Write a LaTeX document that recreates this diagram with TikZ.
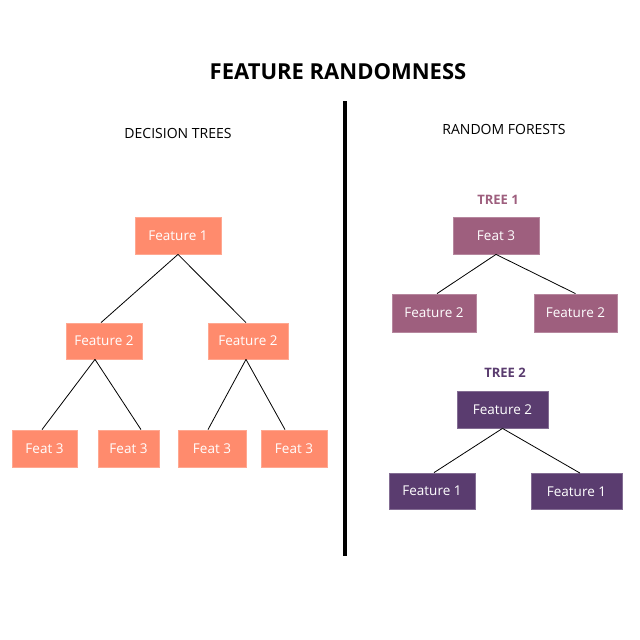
\documentclass[tikz,border=0pt]{standalone}
\usepackage{fontspec}
\setmainfont{Open Sans}
\definecolor{salmon}{HTML}{FF8B6D}
\definecolor{mauve}{HTML}{9E5F7E}
\definecolor{grape}{HTML}{5A3C6F}
\tikzset{
    box/.style={rectangle,inner sep=0pt,text=white,line width=0.8pt,
        font=\fontsize{13.5}{16}\selectfont},
    dtbox/.style={box,fill=salmon,draw=salmon!75!white},
    rfone/.style={box,fill=mauve,draw=mauve!75!white},
    rftwo/.style={box,fill=grape,draw=grape!75!white},
    heading/.style={font=\fontsize{14}{17}\selectfont},
    treelabel/.style={font=\bfseries\fontsize{13}{16}\selectfont},
    branch/.style={line width=0.8pt},
    }
\begin{document}
\begin{tikzpicture}[x=1pt,y=-1pt]
	\useasboundingbox[fill=white] (0,0) rectangle (640,640);
	
	\node[font=\bfseries\fontsize{22}{26}\selectfont] (title) at (338,72) {FEATURE RANDOMNESS};
	\coordinate (divtop) at (345,101);
	\coordinate (divbot) at (345,556);
	\draw[line width=4.5pt] (divtop) -- (divbot);
	
	\node[heading] (dt) at (178,133) {DECISION TREES};
	\node[heading] (rf) at (504,129) {RANDOM FORESTS};
	
	% decision tree
	\node[dtbox,minimum width=86,minimum height=37] (f1) at (178,235.5) {Feature 1};
	
	\node[dtbox,minimum width=76,minimum height=36] (f2a) at (104,341) {Feature 2};
	\node[dtbox,minimum width=80,minimum height=36] (f2b) at (248,341) {Feature 2};
	
	\node[dtbox,minimum width=65,minimum height=37] (f3a) at (44.5,448.5) {Feat 3};
	\node[dtbox,minimum width=61,minimum height=37] (f3b) at (128.5,448.5) {Feat 3};
	\node[dtbox,minimum width=68,minimum height=37] (f3c) at (212,448.5) {Feat 3};
	\node[dtbox,minimum width=66,minimum height=37] (f3d) at (294,448.5) {Feat 3};
	
	\draw[branch] (f1.south) -- ([xshift=-3pt]f2a.north);
	\draw[branch] (f1.south) -- ([xshift=-2pt]f2b.north);
	
	\draw[branch] ([xshift=-9pt]f2a.south) -- ([xshift=-2.5pt]f3a.north);
	\draw[branch] ([xshift=-9pt]f2a.south) -- ([xshift=12.5pt]f3b.north);
	\draw[branch] ([xshift=-2pt]f2b.south) -- ([xshift=-4pt]f3c.north);
	\draw[branch] ([xshift=-2pt]f2b.south) -- ([xshift=-9pt]f3d.north);
	
	% random forest, tree 1
	\node[treelabel,text=mauve] (t1) at (498,200) {TREE 1};
	\node[rfone,minimum width=86,minimum height=37] (t1root) at (496,235.5) {Feat 3};
	\node[rfone,minimum width=84,minimum height=38] (t1left) at (434,313) {Feature 2};
	\node[rfone,minimum width=83,minimum height=38] (t1right) at (575.5,313) {Feature 2};
	
	\draw[branch] (t1root.south) -- ([xshift=3pt]t1left.north);
	\draw[branch] (t1root.south) -- (t1right.north);
	
	% random forest, tree 2
	\node[treelabel,text=grape] (t2) at (505,373) {TREE 2};
	\node[rftwo,minimum width=91,minimum height=37] (t2root) at (502.5,409.5) {Feature 2};
	\node[rftwo,minimum width=86,minimum height=36] (t2left) at (432,491) {Feature 1};
	\node[rftwo,minimum width=91,minimum height=36] (t2right) at (576.5,491.5) {Feature 1};
	
	\draw[branch] (t2root.south) -- ([xshift=2pt]t2left.north);
	\draw[branch] (t2root.south) -- ([xshift=3.5pt]t2right.north);
\end{tikzpicture}
\end{document}
